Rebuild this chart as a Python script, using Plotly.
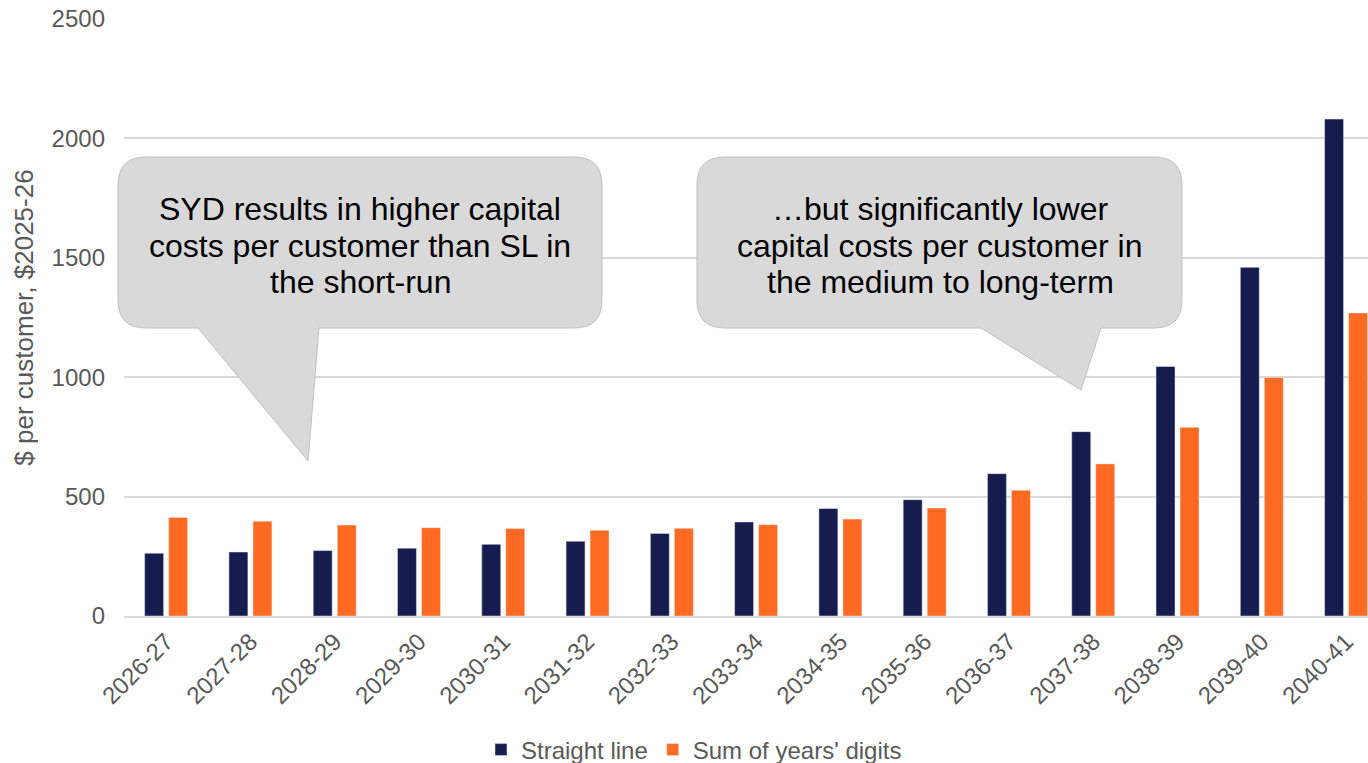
import plotly.graph_objects as go

years = ["2026-27", "2027-28", "2028-29", "2029-30", "2030-31", "2031-32", "2032-33",
         "2033-34", "2034-35", "2035-36", "2036-37", "2037-38", "2038-39", "2039-40", "2040-41"]
straight_line = [263, 268, 274, 284, 300, 313, 346, 394, 450, 487, 596, 772, 1045, 1460, 2081]
sum_years_digits = [413, 397, 381, 370, 366, 359, 367, 382, 406, 452, 527, 637, 790, 999, 1269]

callout_left = ["SYD results in higher capital", "costs per customer than SL in", "the short-run"]
callout_right = ["\u2026but significantly lower", "capital costs per customer in", "the medium to long-term"]

NAVY = "#161C4E"
ORANGE = "#FF6A22"
GRAY_TXT = "#595959"
FONT = "Liberation Sans, Arial, sans-serif"

W, H = 1368, 763
ML, MR, MT, MB = 124, 0, 19, 147
PW, PH = W - ML - MR, H - MT - MB


def px(x):
    return (x - ML) / PW


def py(y):
    return (H - MB - y) / PH


def callout_path(x0, y0, x1, y1, r, tail_l, tail_r, tip):
    pts = []
    def P(cmd, *xy):
        s = cmd
        for i in range(0, len(xy), 2):
            s += f" {px(xy[i]):.5f},{py(xy[i+1]):.5f}"
        pts.append(s)
    P("M", x0 + r, y0)
    P("L", x1 - r, y0)
    P("Q", x1, y0, x1, y0 + r)
    P("L", x1, y1 - r)
    P("Q", x1, y1, x1 - r, y1)
    P("L", tail_r, y1)
    P("L", tip[0], tip[1])
    P("L", tail_l, y1)
    P("L", x0 + r, y1)
    P("Q", x0, y1, x0, y1 - r)
    P("L", x0, y0 + r)
    P("Q", x0, y0, x0 + r, y0)
    return " ".join(pts) + " Z"


fig = go.Figure()
fig.add_trace(go.Bar(x=years, y=straight_line, name="Straight line", marker_color=NAVY))
fig.add_trace(go.Bar(x=years, y=sum_years_digits, name="Sum of years' digits", marker_color=ORANGE))

shapes = [
    dict(type="path", xref="paper", yref="paper", layer="above",
         path=callout_path(118, 157, 602, 328, 28, 198, 319, (308, 461)),
         fillcolor="#D9D9D9", line=dict(color="#BFBFBF", width=1)),
    dict(type="path", xref="paper", yref="paper", layer="above",
         path=callout_path(697, 157, 1182, 328, 28, 981, 1101, (1081, 390)),
         fillcolor="#D9D9D9", line=dict(color="#BFBFBF", width=1)),
]

annotations = []
for lines, cx in ((callout_left, 360), (callout_right, 940)):
    for i, t in enumerate(lines):
        annotations.append(dict(
            text=t, xref="paper", yref="paper", x=px(cx), y=py(209 + 36.5 * i),
            xanchor="center", yanchor="middle", showarrow=False,
            font=dict(family=FONT, size=32, color="#000000")))

fig.update_layout(
    width=W, height=H,
    margin=dict(l=ML, r=MR, t=MT, b=MB, autoexpand=False),
    paper_bgcolor="white", plot_bgcolor="white",
    barmode="group", bargap=0.43, bargroupgap=0.21,
    font=dict(family=FONT, color=GRAY_TXT, size=24),
    shapes=shapes, annotations=annotations,
    legend=dict(orientation="h", x=px(694), xanchor="center", y=py(750), yanchor="middle",
                font=dict(family=FONT, size=24, color=GRAY_TXT), itemwidth=30,
                traceorder="normal", bgcolor="rgba(0,0,0,0)"),
    showlegend=True,
)
fig.update_xaxes(type="category", range=[-0.5, 14.26], tickangle=-45, ticks="",
                 showline=True, linecolor="#D9D9D9", linewidth=2, showgrid=False,
                 tickfont=dict(family=FONT, size=24, color=GRAY_TXT), automargin=False)
fig.update_yaxes(range=[0, 2500], tickvals=[0, 500, 1000, 1500, 2000, 2500], ticks="",
                 showgrid=True, gridcolor="#D9D9D9", gridwidth=1.5, zeroline=False,
                 showline=False, ticklabelstandoff=18,
                 tickfont=dict(family=FONT, size=24, color=GRAY_TXT),
                 title=dict(text="$ per customer, $2025-26", standoff=10,
                            font=dict(family=FONT, size=26, color=GRAY_TXT)),
                 automargin=False)

fig.write_html("out.html")
